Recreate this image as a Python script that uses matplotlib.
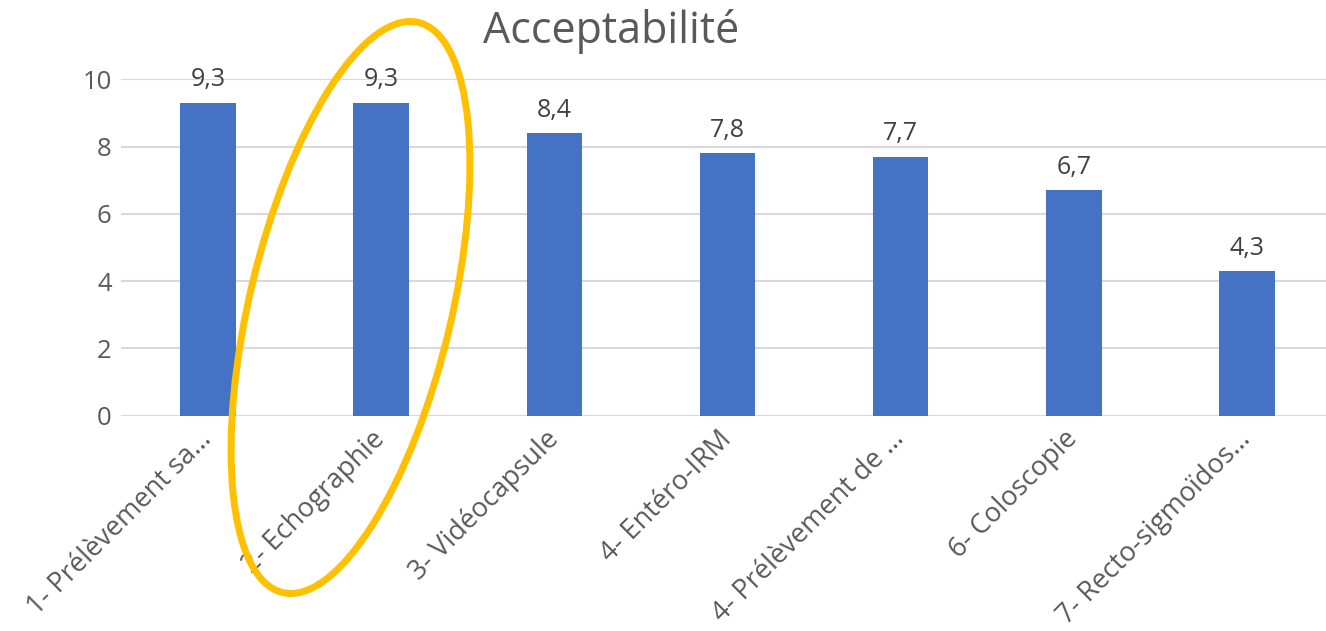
import matplotlib.pyplot as plt
from matplotlib.patches import Ellipse

plt.rcParams['font.family'] = ['Open Sans', 'DejaVu Sans']

labels = ["1- Prélèvement sa…", "2- Echographie", "3- Vidéocapsule", "4- Entéro-IRM",
          "4- Prélèvement de …", "6- Coloscopie", "7- Recto-sigmoïdos…"]
scores = [9.3, 9.3, 8.4, 7.8, 7.7, 6.7, 4.3]
yticks = [0, 2, 4, 6, 8, 10]

fig = plt.figure(figsize=(13.26, 6.31), dpi=100)
ax = fig.add_axes([121.4 / 1326, 215.3 / 631, 1212.2 / 1326, 336.4 / 631])

x = range(len(scores))
bars = ax.bar(x, scores, width=0.32, color='#4472C4', zorder=3)

for b, v in zip(bars, scores):
    ax.annotate(str(v).replace('.', ','), (b.get_x() + b.get_width() / 2, v),
                xytext=(0, 7.5), textcoords='offset points', ha='center', va='bottom',
                fontsize=18, color='#404040')

ax.set_xlim(-0.5, len(scores) - 0.5)
ax.set_ylim(0, 10)
ax.set_yticks(yticks)
ax.set_yticklabels([str(t) for t in yticks], fontsize=18.5, color='#595959')
ax.set_xticks(list(x))
ax.set_xticklabels(labels, fontsize=19.5, color='#595959', rotation=45,
                   ha='right', va='center', rotation_mode='anchor')
ax.tick_params(axis='both', length=0)
ax.tick_params(axis='y', pad=7)
ax.tick_params(axis='x', pad=14)
ax.grid(axis='y', color='#D9D9D9', linewidth=1.5, zorder=0)
for s in ax.spines.values():
    s.set_visible(False)

fig.text(611 / 1326, 1 - 31 / 631, 'Acceptabilité', ha='center', va='center',
         fontsize=31, color='#595959')

# yellow highlight around the echography bar
ring = Ellipse((3.505, 3.235), 2.02, 5.86, angle=-13.4, fill=False,
               edgecolor='#FFC000', linewidth=5, transform=fig.dpi_scale_trans)
fig.add_artist(ring)

fig.savefig('out.png', dpi=100)
